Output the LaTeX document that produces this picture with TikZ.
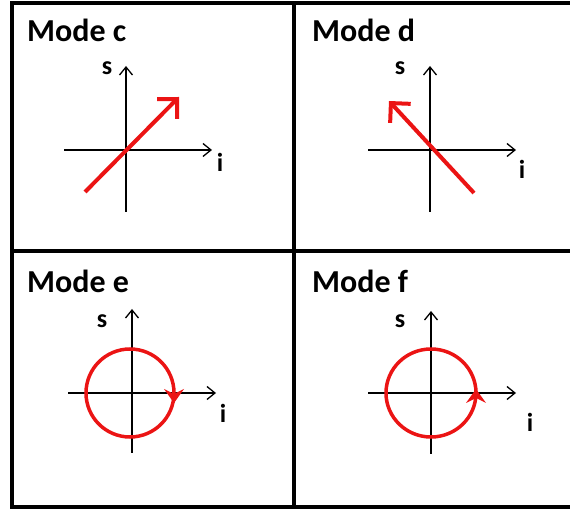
\documentclass[tikz,border=0pt]{standalone}
\usepackage{fontspec}
\setmainfont{Carlito}
\usetikzlibrary{arrows.meta}
\definecolor{modered}{RGB}{235,20,20}
\tikzset{
	axis/.style={line width=1.3pt, -{Straight Barb[length=8pt,width=13pt]}},
	vec/.style={modered, line width=4pt, -{Straight Barb[length=14pt,width=28pt]}},
	orbit/.style={modered, line width=3.5pt},
	spinhead/.style={fill=modered},
	title/.style={anchor=base west, inner sep=0pt, font=\fontsize{32}{34}\selectfont\bfseries},
	axlabel/.style={inner sep=0pt, font=\fontsize{26}{28}\selectfont\bfseries},
}
\begin{document}
\begin{tikzpicture}[x=1pt, y=1pt]
	\clip (0,0) rectangle (570,511);
	% frame and dividers
	\draw[line width=3.5pt] (12,4) rectangle (585,508);
	\draw[line width=3.5pt] (294,4) -- (294,508);
	\draw[line width=3.5pt] (12,260) -- (585,260);
	% Mode c
	\node[title] (tc) at (27,469) {Mode c};
	\begin{scope}[shift={(126,361)}]
		\draw[axis] (-62,0) -- (86,0);
		\draw[axis] (0,-62) -- (0,84);
		\node[axlabel] (sc) at (-19,82) {s};
		\node[axlabel] (ic) at (94,-12) {i};
		\draw[vec] (-41,-42) -- (53,53);
	\end{scope}
	% Mode d
	\node[title] (td) at (312,469) {Mode d};
	\begin{scope}[shift={(430,361)}]
		\draw[axis] (-62,0) -- (86,0);
		\draw[axis] (0,-62) -- (0,84);
		\node[axlabel] (sd) at (-30,82) {s};
		\node[axlabel] (id) at (92,-19) {i};
		\draw[vec] (44,-43) -- (-41,49);
	\end{scope}
	% Mode e
	\node[title] (te) at (27,218) {Mode e};
	\begin{scope}[shift={(132,118)}]
		\draw[axis] (-64,0) -- (84,0);
		\draw[axis] (0,-60) -- (0,84);
		\node[axlabel] (se) at (-30,72) {s};
		\node[axlabel] (ie) at (91,-20) {i};
		\draw[orbit] (-2,0) circle[radius=44];
		% clockwise head
		\fill[spinhead] (42,-10) -- (32,4) -- (42,-1) -- (52,4) -- cycle;
	\end{scope}
	% Mode f
	\node[title] (tf) at (312,218) {Mode f};
	\begin{scope}[shift={(431,118)}]
		\draw[axis] (-63,0) -- (85,0);
		\draw[axis] (0,-61) -- (0,82);
		\node[axlabel] (sf) at (-31,72) {s};
		\node[axlabel] (if) at (99,-29) {i};
		\draw[orbit] (0,0) circle[x radius=45, y radius=44];
		% anticlockwise head
		\fill[spinhead] (45,4) -- (35,-10) -- (45,-5) -- (55,-10) -- cycle;
	\end{scope}
\end{tikzpicture}
\end{document}
